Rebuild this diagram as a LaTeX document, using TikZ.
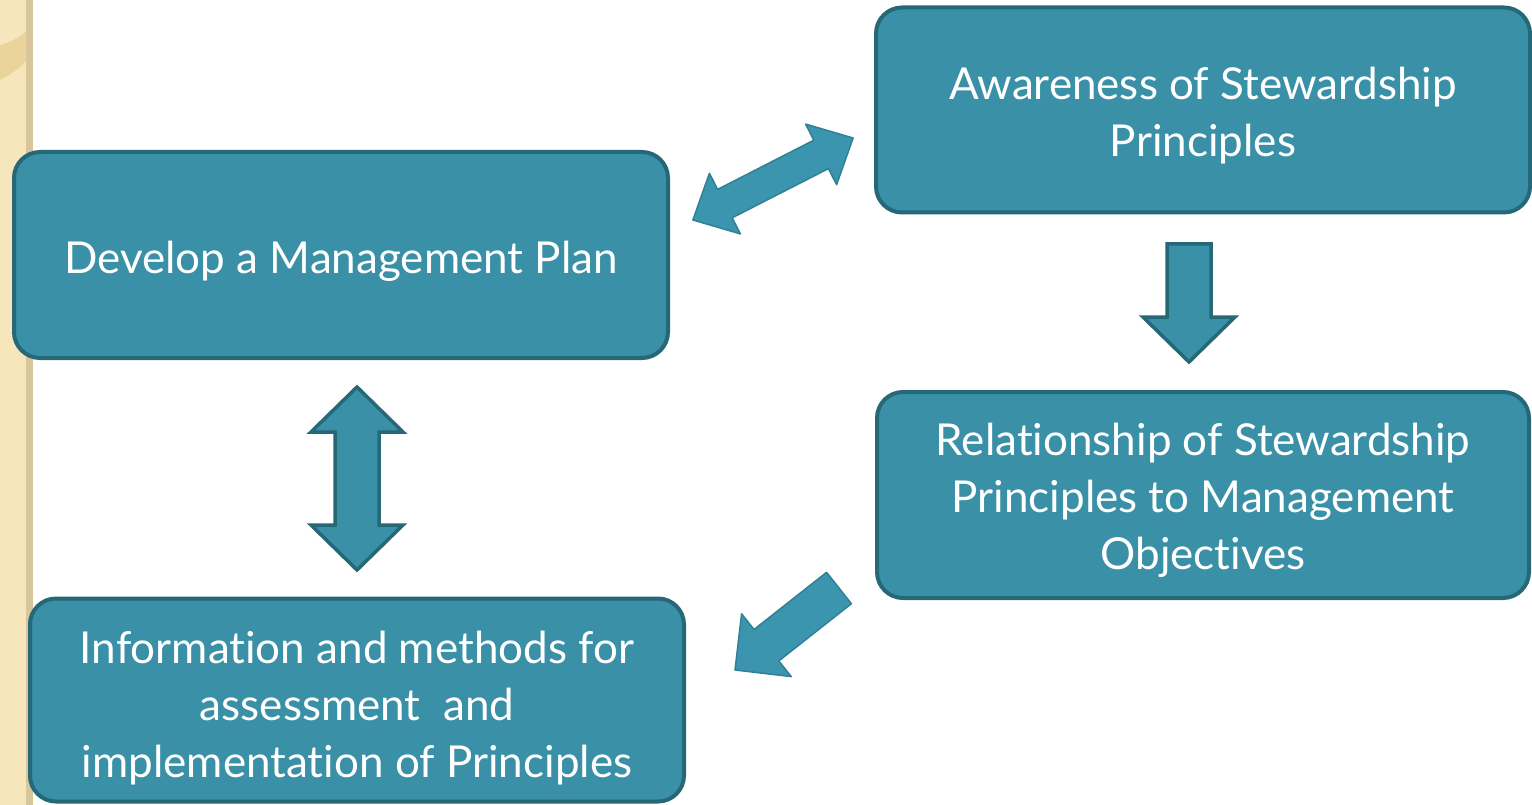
\documentclass[tikz,border=0pt]{standalone}
\usepackage{fontspec}
\setmainfont[Ligatures=NoCommon]{Lato}
\definecolor{boxfill}{RGB}{58,144,166}
\definecolor{boxline}{RGB}{37,104,120}
\definecolor{arrfill}{RGB}{60,149,174}
\definecolor{arrline}{RGB}{48,128,150}
\definecolor{beige}{RGB}{246,230,188}
\definecolor{tan}{RGB}{216,198,154}
\definecolor{band}{RGB}{234,212,156}
\tikzset{
  stepbox/.style={draw=boxline, fill=boxfill, line width=4pt, rounded corners=26pt},
  steptext/.style={text=white, align=center, font=\fontsize{44}{57}\selectfont},
  blockarrow/.style={draw=boxline, fill=boxfill, line width=3.5pt, line join=miter},
  softarrow/.style={draw=arrline, fill=arrfill, line width=1.5pt, line join=round}
}
\begin{document}
\begin{tikzpicture}[x=1pt,y=-1pt]
\useasboundingbox (0,0) rectangle (1532,805);
\fill[white] (0,0) rectangle (1532,805);
% left decorative strip
\fill[beige] (0,0) rectangle (27,805);
\fill[band] (0,45) .. controls (12,42) and (22,36) .. (27,30) -- (27,60) .. controls (20,68) and (10,75) .. (0,80) -- cycle;
\fill[tan] (26,0) rectangle (33,805);
% boxes
\node[stepbox, minimum width=654pt, minimum height=205pt] (aware) at (1203,110) {};
\node[steptext] at ([yshift=-6pt]aware.center) {Awareness of Stewardship\\Principles};
\node[stepbox, minimum width=654pt, minimum height=206pt] (develop) at (341,255) {};
\node[steptext] at ([yshift=-6pt]develop.center) {Develop a Management Plan};
\node[stepbox, minimum width=652pt, minimum height=206pt] (relation) at (1203,495) {};
\node[steptext] at ([yshift=-5pt]relation.center) {Relationship of Stewardship\\Principles to Management\\Objectives};
\node[stepbox, minimum width=654pt, minimum height=203pt] (info) at (357,700) {};
\node[steptext] at ([yshift=-8pt]info.center) {Information and methods for\\assessment\ \ and\\implementation of Principles};
% arrows
\draw[softarrow] (853.1,138.0) -- (836.6,184.7) -- (828.4,168.6) -- (732.2,217.8) -- (740.4,233.9)
  -- (692.9,220.0) -- (709.4,173.3) -- (717.6,189.4) -- (813.8,140.2) -- (805.6,124.1) -- cycle;
\draw[blockarrow] (1167,244) -- (1211,244) -- (1211,317) -- (1235,317) -- (1189,362) -- (1143,317) -- (1167,317) -- cycle;
\draw[blockarrow] (357,387) -- (403,432) -- (379,432) -- (379,525) -- (403,525) -- (357,570)
  -- (311,525) -- (335,525) -- (335,432) -- (311,432) -- cycle;
\draw[softarrow] (735,670) -- (741.6,613.8) -- (754.0,629.5) -- (826.6,572.3) -- (851.4,603.7)
  -- (778.8,660.9) -- (791.2,676.6) -- cycle;
\end{tikzpicture}
\end{document}
